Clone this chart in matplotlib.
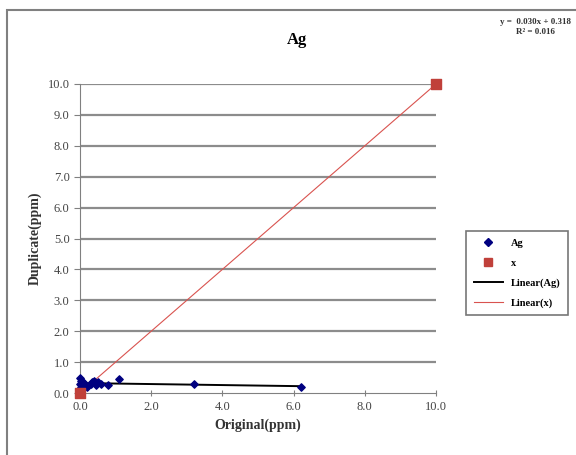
import numpy as np
import matplotlib
matplotlib.use("Agg")
import matplotlib.pyplot as plt
from matplotlib.lines import Line2D
from matplotlib.patches import Rectangle

plt.rcParams["font.family"] = ["Liberation Serif", "DejaVu Serif"]

# Ag duplicate check data (ppm)
ag_original = [0.0, 0.0, 0.02, 0.03, 0.05, 0.08, 0.1, 0.15, 0.2, 0.3,
               0.35, 0.4, 0.45, 0.5, 0.6, 0.8, 1.1, 3.2, 6.2]
ag_duplicate = [0.5, 0.3, 0.4, 0.2, 0.25, 0.35, 0.3, 0.25, 0.2, 0.3,
                0.35, 0.4, 0.25, 0.35, 0.3, 0.25, 0.45, 0.28, 0.2]
x_line = [0.0, 10.0]
y_line = [0.0, 10.0]
y_ticks = [0, 1, 2, 3, 4, 5, 6, 7, 8, 9, 10]
x_ticks = [0, 2, 4, 6, 8, 10]

fig = plt.figure(figsize=(5.76, 4.55), dpi=100)
ax = fig.add_axes([80 / 576, 1 - 393 / 455, 356 / 576, 309 / 455])

# outer chart border (top / left visible)
fig.patches.append(Rectangle((7 / 576, -0.1), 1.2, 1 - 10 / 455 + 0.1,
                             transform=fig.transFigure, fill=False,
                             edgecolor="#808080", linewidth=1.5))

for y in y_ticks[1:]:
    ax.axhline(y, color="#8c8c8c", linewidth=1.6, zorder=1)

ax.scatter(ag_original, ag_duplicate, marker="D", s=14, color="#000080",
           zorder=4, clip_on=False)
ax.scatter(x_line, y_line, marker="s", s=60, color="#c0403a", zorder=5,
           clip_on=False)

coef = np.polyfit(ag_original, ag_duplicate, 1)
fx = np.array([min(ag_original), max(ag_original)])
ax.plot(fx, np.polyval(coef, fx), color="black", linewidth=1.4, zorder=3)
ax.plot(x_line, y_line, color="#d9534f", linewidth=0.8, zorder=3)

ax.set_xlim(0, 10)
ax.set_ylim(0, 10)
ax.set_xticks(x_ticks)
ax.set_yticks(y_ticks)
ax.set_xticklabels(["%.1f" % v for v in x_ticks], fontsize=9, color="#444444")
ax.set_yticklabels(["%.1f" % v for v in y_ticks], fontsize=9, color="#444444")
ax.tick_params(axis="y", direction="out", length=4, color="#808080")
ax.tick_params(axis="x", direction="inout", length=5, color="#808080")
for s in ["top", "right"]:
    ax.spines[s].set_visible(False)
ax.spines["left"].set_color("#808080")
ax.spines["bottom"].set_color("#808080")

ax.set_xlabel("Original(ppm)", fontsize=10, fontweight="bold", color="#333333")
ax.set_ylabel("Duplicate(ppm)", fontsize=10, fontweight="bold", color="#333333")

fig.text(297 / 576, 1 - 40 / 455, "Ag", fontsize=12, fontweight="bold",
         ha="center", va="center")
fig.text(535 / 576, 1 - 27 / 455, "y =  0.030x + 0.318\nR² = 0.016",
         fontsize=6.5, fontweight="bold", ha="center", va="center",
         linespacing=1.2, color="#333333")

handles = [
    Line2D([], [], marker="D", linestyle="none", color="#000080", markersize=4),
    Line2D([], [], marker="s", linestyle="none", color="#c0403a", markersize=6),
    Line2D([], [], color="black", linewidth=1.4),
    Line2D([], [], color="#d9534f", linewidth=0.8),
]
labels = ["Ag", "x", "Linear(Ag)", "Linear(x)"]
leg = fig.legend(handles, labels, loc="upper left",
                 bbox_to_anchor=(461 / 576, 1 - 226 / 455), fontsize=7.5,
                 frameon=True, fancybox=False, edgecolor="#555555",
                 handlelength=2.8, borderpad=0.7, labelspacing=1.0)
leg.get_frame().set_linewidth(1.2)
for t in leg.get_texts():
    t.set_fontweight("bold")

fig.savefig("out.png", dpi=100)
